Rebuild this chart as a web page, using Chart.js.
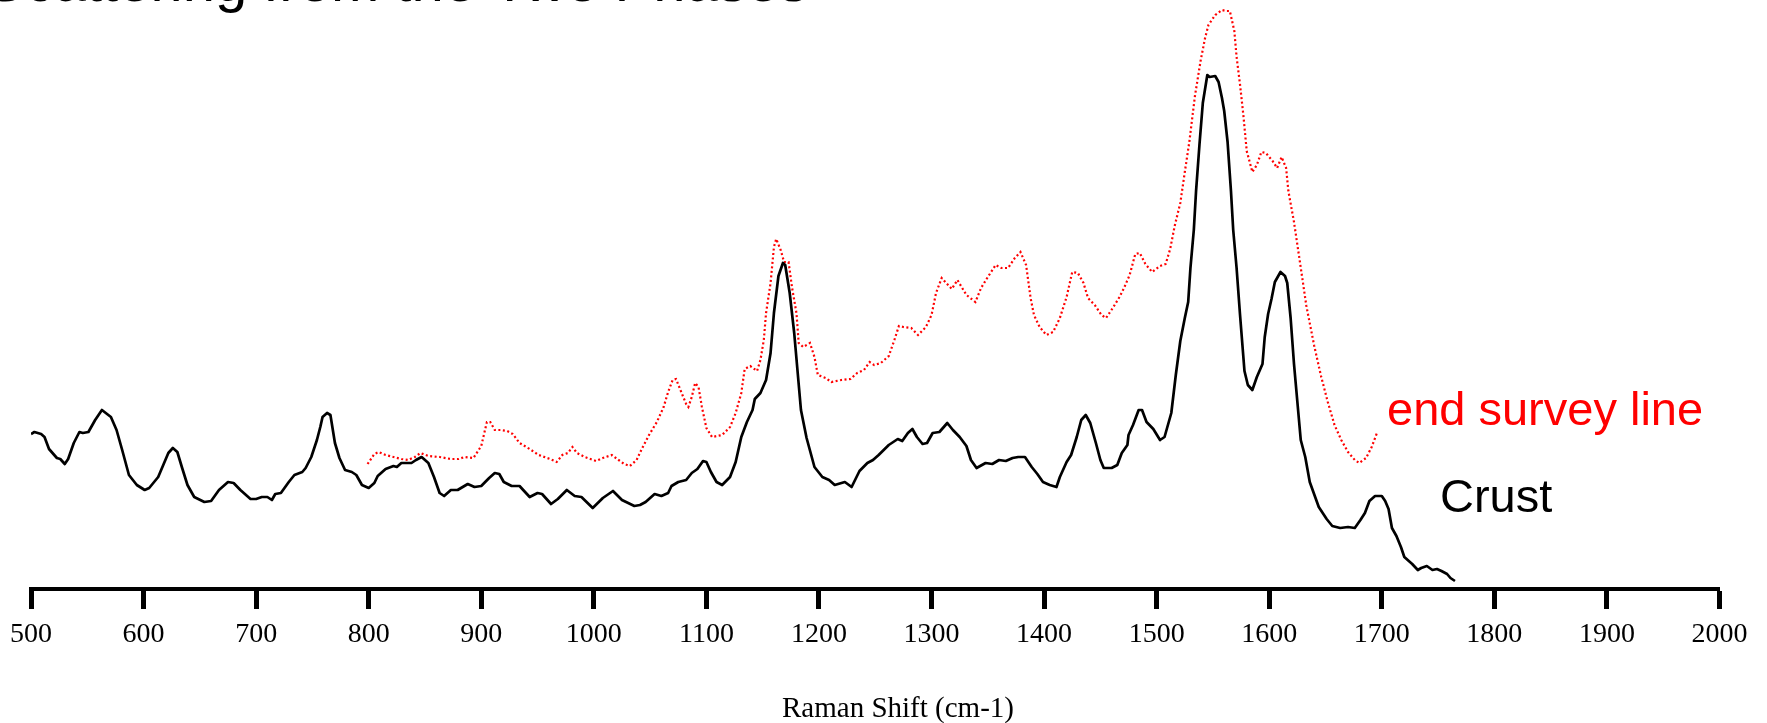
<!DOCTYPE html>
<html>
<head>
<meta charset="utf-8">
<title>Raman spectra</title>
<script src="https://cdn.jsdelivr.net/npm/chart.js@4.4.0/dist/chart.umd.min.js"></script>
<style>
  html, body { margin: 0; padding: 0; background: #fff; overflow: hidden; }
  canvas { display: block; }
</style>
</head>
<body>
<canvas id="spectrum" width="1767" height="723"></canvas>
<script>
// Crust spectrum (Raman shift in cm-1, intensity in arbitrary units)
const crustShift = [
  500, 503, 509, 512, 516, 523, 526, 530, 533, 538,
  543, 546, 551, 557, 563, 571, 576, 581, 587, 594,
  601, 605, 613, 622, 626, 630, 634, 639, 645, 654,
  660, 667, 675, 680, 686, 695, 700, 705, 710, 714,
  717, 722, 729, 734, 741, 744, 749, 754, 757, 759,
  763, 766, 770, 774, 779, 785, 789, 794, 800, 805,
  808, 815, 822, 825, 829, 838, 842, 847, 853, 858,
  863, 867, 873, 879, 888, 894, 900, 907, 912, 916,
  920, 927, 934, 943, 950, 954, 962, 968, 976, 983,
  989, 999, 1008, 1017, 1025, 1036, 1041, 1046, 1054, 1060,
  1066, 1069, 1075, 1082, 1087, 1092, 1097, 1100, 1104, 1109,
  1114, 1121, 1126, 1131, 1136, 1141, 1143, 1148, 1153, 1157,
  1160, 1164, 1168, 1170, 1174, 1178, 1184, 1189, 1196, 1203,
  1209, 1214, 1223, 1229, 1236, 1243, 1248, 1253, 1262, 1270,
  1274, 1279, 1283, 1287, 1292, 1296, 1301, 1307, 1314, 1319,
  1325, 1331, 1335, 1340, 1348, 1354, 1360, 1366, 1372, 1377,
  1383, 1389, 1394, 1399, 1405, 1411, 1414, 1420, 1424, 1429,
  1433, 1437, 1441, 1446, 1450, 1453, 1460, 1465, 1469, 1474,
  1475, 1479, 1484, 1487, 1491, 1497, 1503, 1507, 1513, 1517,
  1521, 1525, 1528, 1530, 1533, 1535, 1538, 1541, 1545, 1547,
  1552, 1555, 1558, 1560, 1563, 1566, 1568, 1571, 1574, 1578,
  1581, 1585, 1589, 1594, 1596, 1599, 1602, 1605, 1610, 1614,
  1616, 1619, 1622, 1625, 1628, 1632, 1636, 1644, 1651, 1656,
  1663, 1670, 1676, 1681, 1685, 1689, 1694, 1700, 1703, 1706,
  1709, 1713, 1717, 1720, 1724, 1727, 1732, 1735, 1740, 1745,
  1749, 1753, 1758, 1761, 1765
];
const crustIntensity = [
  155, 157, 155, 152, 140, 131, 130, 125, 130, 146,
  157, 156, 157, 169, 179, 172, 159, 139, 114, 104,
  99, 101, 112, 136, 141, 137, 122, 104, 92, 87,
  88, 99, 107, 106, 99, 90, 90, 92, 92, 89,
  95, 96, 107, 114, 117, 121, 132, 149, 162, 172,
  176, 174, 146, 131, 119, 117, 114, 104, 101, 106,
  113, 120, 123, 122, 126, 126, 129, 132, 126, 112,
  96, 93, 99, 99, 105, 102, 103, 111, 116, 115,
  107, 103, 103, 92, 96, 95, 85, 90, 99, 93,
  92, 81, 91, 98, 89, 83, 84, 87, 95, 93,
  96, 103, 107, 109, 116, 120, 128, 127, 117, 107,
  104, 112, 127, 152, 167, 179, 190, 196, 209, 236,
  276, 313, 326, 324, 296, 256, 179, 151, 122, 112,
  109, 104, 107, 102, 118, 126, 129, 134, 144, 150,
  148, 156, 160, 152, 145, 146, 156, 157, 166, 159,
  152, 143, 129, 121, 126, 125, 129, 128, 131, 132,
  132, 122, 115, 107, 104, 102, 112, 127, 134, 152,
  169, 174, 166, 146, 129, 121, 121, 124, 136, 144,
  154, 164, 179, 179, 167, 160, 149, 152, 176, 214,
  248, 271, 287, 321, 359, 398, 444, 486, 514, 512,
  513, 507, 491, 478, 447, 398, 359, 321, 275, 218,
  204, 199, 212, 225, 252, 275, 290, 307, 317, 313,
  306, 271, 225, 187, 149, 132, 107, 82, 70, 63,
  61, 62, 61, 69, 76, 88, 93, 93, 88, 80,
  61, 53, 42, 32, 28, 25, 19, 21, 23, 19,
  20, 18, 15, 11, 8
];

// end survey line spectrum
const endShift = [
  799, 805, 809, 815, 822, 829, 835, 841, 846, 853,
  863, 873, 880, 885, 893, 900, 905, 908, 912, 917,
  923, 928, 934, 943, 951, 961, 967, 972, 977, 981,
  985, 992, 1002, 1008, 1016, 1022, 1027, 1032, 1038, 1043,
  1049, 1056, 1062, 1066, 1070, 1073, 1078, 1082, 1084, 1087,
  1090, 1093, 1096, 1100, 1105, 1114, 1121, 1126, 1131, 1134,
  1139, 1145, 1148, 1151, 1153, 1157, 1160, 1162, 1166, 1169,
  1173, 1176, 1180, 1182, 1186, 1192, 1196, 1199, 1206, 1211,
  1220, 1228, 1234, 1240, 1245, 1249, 1255, 1262, 1267, 1271,
  1275, 1282, 1288, 1295, 1300, 1304, 1309, 1313, 1318, 1323,
  1331, 1339, 1344, 1350, 1357, 1362, 1368, 1374, 1379, 1384,
  1388, 1391, 1396, 1402, 1408, 1414, 1420, 1425, 1430, 1435,
  1439, 1445, 1451, 1455, 1461, 1467, 1471, 1476, 1481, 1485,
  1490, 1496, 1503, 1508, 1512, 1516, 1521, 1525, 1529, 1534,
  1539, 1543, 1546, 1552, 1558, 1562, 1565, 1569, 1571, 1574,
  1577, 1580, 1585, 1589, 1593, 1597, 1603, 1607, 1611, 1615,
  1617, 1622, 1627, 1633, 1640, 1646, 1652, 1658, 1664, 1670,
  1676, 1680, 1686, 1691, 1696
];
const endIntensity = [
  125, 135, 137, 134, 132, 130, 129, 132, 136, 133,
  132, 130, 130, 132, 131, 143, 167, 167, 159, 159,
  158, 155, 146, 140, 134, 130, 127, 134, 136, 142,
  136, 132, 128, 131, 134, 129, 125, 123, 129, 141,
  154, 167, 182, 197, 209, 210, 196, 185, 182, 192,
  206, 202, 182, 161, 152, 154, 162, 176, 196, 220,
  223, 218, 229, 249, 276, 306, 342, 350, 339, 327,
  327, 302, 276, 246, 242, 246, 232, 214, 211, 207,
  209, 210, 216, 219, 227, 224, 226, 233, 249, 263,
  262, 261, 254, 262, 274, 296, 311, 306, 300, 309,
  294, 287, 301, 312, 324, 321, 321, 331, 337, 324,
  291, 274, 262, 254, 257, 271, 292, 317, 316, 306,
  291, 284, 274, 271, 281, 292, 301, 314, 335, 336,
  325, 317, 323, 325, 340, 363, 386, 417, 447, 493,
  528, 551, 564, 574, 579, 578, 578, 558, 532, 505,
  474, 438, 417, 424, 437, 436, 428, 421, 432, 421,
  398, 367, 329, 283, 243, 213, 187, 164, 149, 137,
  129, 126, 131, 142, 157
];

const xTicks = [500, 600, 700, 800, 900, 1000, 1100, 1200, 1300, 1400, 1500, 1600, 1700, 1800, 1900, 2000];

function toPoints(xs, ys) {
  return xs.map((x, i) => ({ x: x, y: ys[i] }));
}

// plain text written on the canvas: labels of the traces, axis title, cut-off heading
const textPlugin = {
  id: "spectrumText",
  afterDraw(chart) {
    const ctx = chart.ctx;
    ctx.save();
    ctx.textBaseline = "alphabetic";
    ctx.textAlign = "left";

    ctx.font = "58px 'Liberation Sans', Arial, sans-serif";
    ctx.fillStyle = "#000";
    ctx.fillText("Scattering from the Two Phases", -14, 1);

    ctx.font = "47px 'Liberation Sans', Arial, sans-serif";
    ctx.fillStyle = "#ff0000";
    ctx.fillText("end survey line", 1387, 425);
    ctx.fillStyle = "#000";
    ctx.fillText("Crust", 1440, 512);

    ctx.font = "29px 'Liberation Serif', 'Times New Roman', serif";
    ctx.textAlign = "center";
    ctx.fillText("Raman Shift (cm-1)", 898, 717);
    ctx.restore();
  }
};

new Chart(document.getElementById("spectrum"), {
  type: "line",
  data: {
    datasets: [
      {
        label: "Crust",
        data: toPoints(crustShift, crustIntensity),
        borderColor: "#000000",
        borderWidth: 2.7,
        borderJoinStyle: "round",
        pointRadius: 0,
        tension: 0,
        fill: false
      },
      {
        label: "end survey line",
        data: toPoints(endShift, endIntensity),
        borderColor: "#ff0000",
        borderWidth: 2.2,
        borderDash: [2, 2.5],
        pointRadius: 0,
        tension: 0,
        fill: false
      }
    ]
  },
  options: {
    responsive: false,
    animation: false,
    devicePixelRatio: 1,
    // the x scale reserves tick length + label height + twice the tick padding
    layout: { padding: { left: 31, right: 47.5, top: 0, bottom: 62.4 } },
    plugins: {
      legend: { display: false },
      tooltip: { enabled: false }
    },
    scales: {
      x: {
        type: "linear",
        min: 500,
        max: 2000,
        afterBuildTicks(scale) {
          scale.ticks = xTicks.map(v => ({ value: v }));
        },
        ticks: {
          color: "#000",
          padding: 9,
          maxRotation: 0,
          autoSkip: false,
          font: { family: "'Liberation Serif', 'Times New Roman', serif", size: 28 },
          callback: v => String(v)
        },
        grid: {
          drawOnChartArea: false,
          drawTicks: true,
          tickLength: 20,
          tickWidth: 5,
          tickColor: "#000"
        },
        border: { display: true, color: "#000", width: 4 }
      },
      y: {
        display: false,
        min: 0,
        max: 589
      }
    }
  },
  plugins: [textPlugin]
});
</script>
</body>
</html>
